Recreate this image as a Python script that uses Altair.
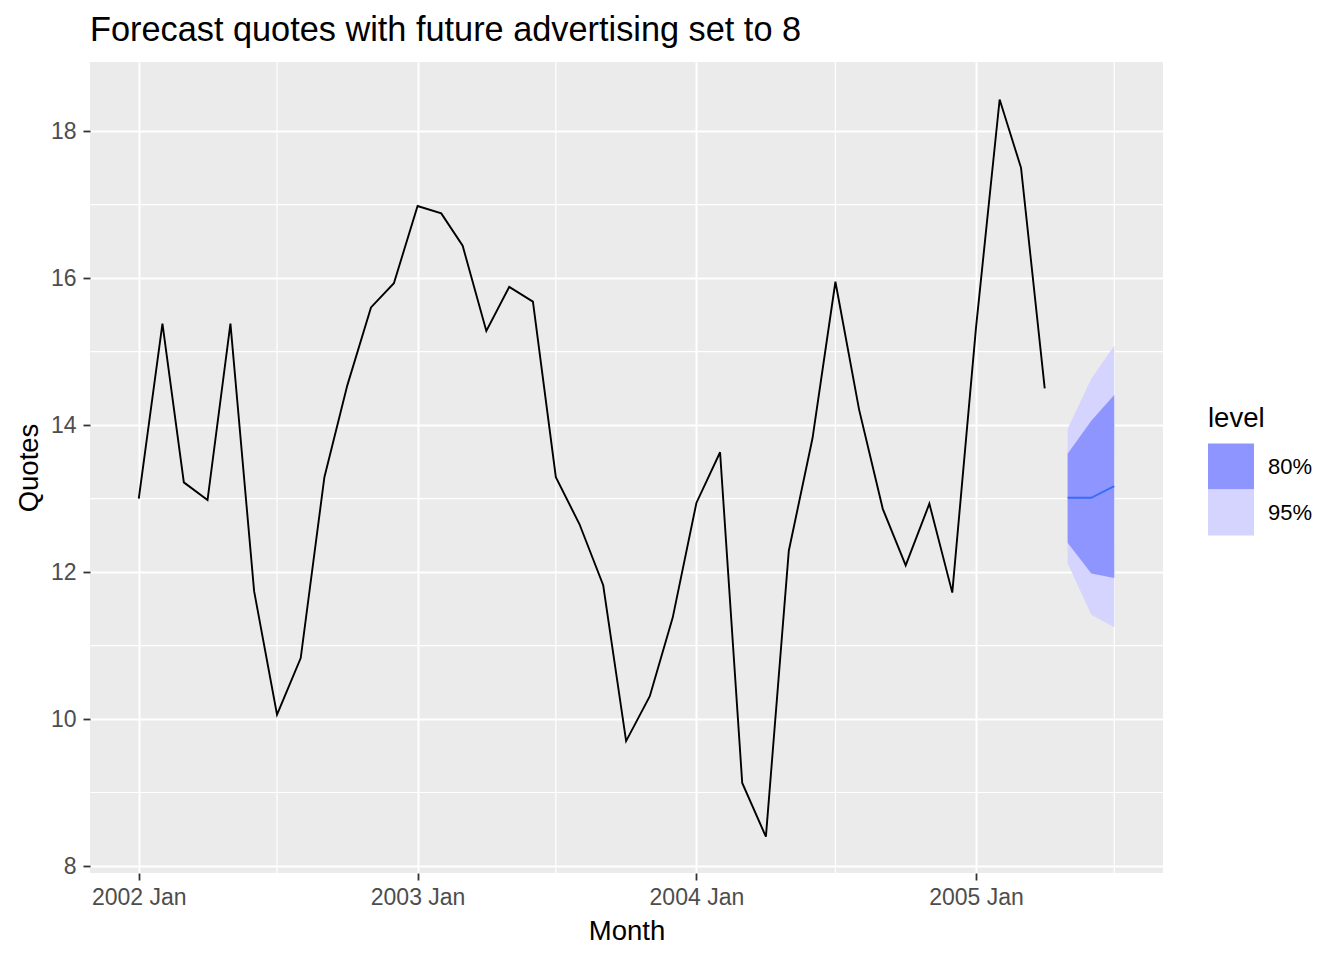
import altair as alt
import pandas as pd

# ---- data ----
months = [
    "2002-01", "2002-02", "2002-03", "2002-04", "2002-05", "2002-06",
    "2002-07", "2002-08", "2002-09", "2002-10", "2002-11", "2002-12",
    "2003-01", "2003-02", "2003-03", "2003-04", "2003-05", "2003-06",
    "2003-07", "2003-08", "2003-09", "2003-10", "2003-11", "2003-12",
    "2004-01", "2004-02", "2004-03", "2004-04", "2004-05", "2004-06",
    "2004-07", "2004-08", "2004-09", "2004-10", "2004-11", "2004-12",
    "2005-01", "2005-02", "2005-03", "2005-04",
]
quotes = [
    13.00, 15.38, 13.22, 12.98, 15.38, 11.74, 10.06, 10.83, 13.29, 14.54, 15.60, 15.93,
    16.98, 16.88, 16.44, 15.28, 15.88, 15.68, 13.29, 12.65, 11.82, 9.70, 10.31, 11.38,
    12.94, 13.63, 9.13, 8.40, 12.29, 13.82, 15.95, 14.21, 12.86, 12.09, 12.93, 11.72,
    15.32, 18.43, 17.50, 14.50,
]

fc_months = ["2005-05", "2005-06", "2005-07"]
fc_mean = [13.01, 13.01, 13.17]
lo80 = [12.40, 11.98, 11.92]
hi80 = [13.61, 14.06, 14.41]
lo95 = [12.12, 11.42, 11.25]
hi95 = [13.95, 14.63, 15.08]

levels = ["80%", "95%"]
level_colors = ["#8F95FE", "#D4D4FE"]

minor_y = [9, 11, 13, 15, 17]
minor_x = ["2002-07", "2003-07", "2004-07", "2005-07"]
major_x_years = [2002, 2003, 2004, 2005]

# ---- tables ----
def to_dt(ms):
    return pd.to_datetime([m + "-01" for m in ms])

hist = pd.DataFrame({"Month": to_dt(months), "Quotes": quotes})
fc = pd.DataFrame({"Month": to_dt(fc_months), "Quotes": fc_mean})
band80 = pd.DataFrame({"Month": to_dt(fc_months), "lo": lo80, "hi": hi80, "level": "80%"})
band95 = pd.DataFrame({"Month": to_dt(fc_months), "lo": lo95, "hi": hi95, "level": "95%"})
gy = pd.DataFrame({"Quotes": minor_y})
gx = pd.DataFrame({"Month": to_dt(minor_x)})

FONT = "Liberation Sans"

x_scale = alt.Scale(
    domain=[alt.DateTime(year=2001, month=10, date=29, hours=3, minutes=36),
            alt.DateTime(year=2005, month=9, date=2, hours=20, minutes=24)],
    nice=False,
)
y_scale = alt.Scale(domain=[7.905, 18.94], nice=False, zero=False)

x_axis = alt.Axis(
    title="Month",
    values=[alt.DateTime(year=y, month=1, date=1) for y in major_x_years],
    format="%Y %b",
    labelOverlap=False,
    labelFlush=False,
)
y_axis = alt.Axis(title="Quotes", values=[8, 10, 12, 14, 16, 18])

def X(field="Month"):
    return alt.X(f"{field}:T", scale=x_scale, axis=x_axis, title="Month")

def Y(field="Quotes"):
    return alt.Y(f"{field}:Q", scale=y_scale, axis=y_axis, title="Quotes")

color = alt.Color(
    "level:N",
    scale=alt.Scale(domain=levels, range=level_colors),
    legend=alt.Legend(
        title="level",
        orient="none",
        legendX=1118,
        legendY=343,
        symbolType="square",
        symbolSize=2116,
        symbolStrokeWidth=0,
        symbolOpacity=1,
        rowPadding=0,
        labelOffset=14,
        labelFontSize=22,
        labelColor="black",
        labelFont=FONT,
        titleFontSize=27.5,
        titleFontWeight="normal",
        titleColor="black",
        titleFont=FONT,
        titlePadding=11,
        padding=0,
    ),
)

grid_minor_y = alt.Chart(gy).mark_rule(color="white", strokeWidth=1.2).encode(y=Y())
grid_minor_x = alt.Chart(gx).mark_rule(color="white", strokeWidth=1.2).encode(x=X())

area95 = alt.Chart(band95).mark_area(opacity=1).encode(
    x=X(), y=Y("lo"), y2="hi:Q", color=color
)
area80 = alt.Chart(band80).mark_area(opacity=1).encode(
    x=X(), y=Y("lo"), y2="hi:Q", color=color
)
line_hist = alt.Chart(hist).mark_line(color="black", strokeWidth=1.9).encode(x=X(), y=Y())
line_fc = alt.Chart(fc).mark_line(color="#3B6CF7", strokeWidth=1.9).encode(x=X(), y=Y())

chart = (
    alt.layer(grid_minor_y, grid_minor_x, area95, area80, line_hist, line_fc)
    .properties(
        width=1073,
        height=811,
        title=alt.TitleParams(
            "Forecast quotes with future advertising set to 8",
            anchor="start",
            frame="group",
            fontSize=34.3,
            fontWeight="normal",
            color="black",
            font=FONT,
            baseline="bottom",
            offset=14,
            dy=35,
        ),
        autosize=alt.AutoSizeParams(type="none"),
        padding={"left": 82, "top": 54, "right": 173, "bottom": 79},
    )
    .configure(font=FONT)
    .configure_view(fill="#EBEBEB", stroke=None)
    .configure_axis(
        domain=False,
        grid=True,
        gridColor="white",
        gridWidth=2,
        tickColor="#333333",
        tickSize=7,
        tickWidth=1.8,
        labelFontSize=23,
        labelColor="#4D4D4D",
        labelFont=FONT,
        titleFontSize=27.5,
        titleFontWeight="normal",
        titleColor="black",
        titleFont=FONT,
    )
    .configure_axisY(labelPadding=7, titlePadding=7)
    .configure_axisX(labelPadding=6, titlePadding=8)
)

chart.save("out.html", embed_options={"renderer": "svg", "actions": False})
